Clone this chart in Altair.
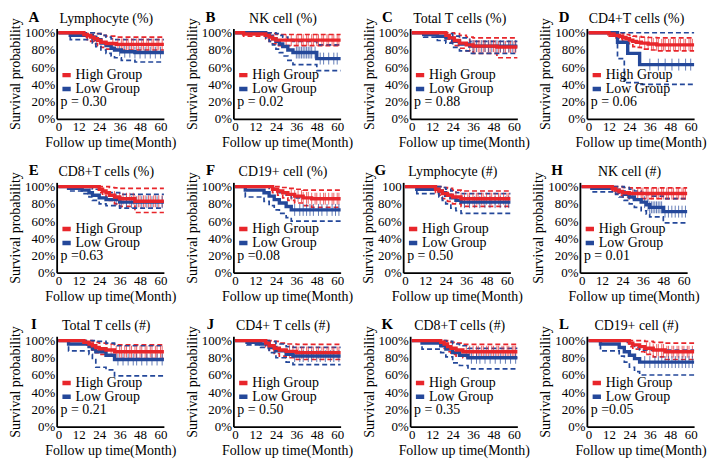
import altair as alt
import numpy as np
import pandas as pd

FONT = "Liberation Serif"
RED = "#e8262b"
BLUE = "#24489a"
GROUPS = ["High Group", "Low Group"]
X_TICKS = [0, 12, 24, 36, 48, 60]
Y_TICKS = [0.0, 0.2, 0.4, 0.6, 0.8, 1.0]
X_TITLE = "Follow up time(Month)"
Y_TITLE = "Survival probability"
LETTERS = ["A", "B", "C", "D", "E", "F", "G", "H", "I", "J", "K", "L"]
TITLES = ["Lymphocyte (%)", "NK cell (%)", "Total T cells (%)", "CD4+T cells (%)",
          "CD8+T cells (%)", "CD19+ cell (%)", "Lymphocyte (#)", "NK cell (#)",
          "Total T cells (#)", "CD4+ T cells (#)", "CD8+T cells (#)", "CD19+ cell (#)"]
PVALS = ["p = 0.30", "p = 0.02", "p = 0.88", "p = 0.06", "p =0.63", "p =0.08",
         "p = 0.50", "p = 0.01", "p = 0.21", "p = 0.50", "p = 0.35", "p =0.05"]
TOP_LABEL_NO_PERCENT = ["G"]

# ---- A: Lymphocyte (%)
A_H_T = [0, 15, 17, 19, 21, 23, 25, 28, 34, 62]
A_H_S = [1.00, 0.98, 0.965, 0.95, 0.93, 0.91, 0.89, 0.875, 0.865, 0.865]
A_H_LCL = [1.00, 0.95, 0.92, 0.90, 0.87, 0.85, 0.83, 0.81, 0.80, 0.80]
A_H_UCL = [1.00, 1.00, 1.00, 1.00, 1.00, 0.99, 0.97, 0.96, 0.95, 0.95]
A_H_CENS = [32, 35, 37, 38, 40, 41, 43, 44, 46, 47, 49, 50, 52, 53, 55, 56, 58, 59, 61]
A_L_T = [0, 7, 20, 22, 25, 28, 31, 33, 37, 45, 62]
A_L_S = [1.00, 0.97, 0.95, 0.92, 0.88, 0.85, 0.82, 0.80, 0.78, 0.77, 0.77]
A_L_LCL = [1.00, 0.92, 0.88, 0.84, 0.80, 0.76, 0.73, 0.71, 0.68, 0.66, 0.66]
A_L_UCL = [1.00, 1.00, 1.00, 0.99, 0.97, 0.95, 0.93, 0.92, 0.92, 0.92, 0.92]
A_L_CENS = [36, 39, 42, 45, 48, 51, 54, 57, 60]

# ---- B: NK cell (%)
B_H_T = [0, 5, 18, 20, 22, 24, 62]
B_H_S = [1.00, 0.985, 0.97, 0.95, 0.93, 0.915, 0.915]
B_H_LCL = [1.00, 0.96, 0.93, 0.90, 0.87, 0.85, 0.85]
B_H_UCL = [1.00, 1.00, 1.00, 1.00, 0.99, 0.98, 0.98]
B_H_CENS = [30, 33, 36, 37, 39, 40, 42, 43, 45, 46, 48, 49, 51, 52, 54, 55, 57, 58, 60, 61]
B_L_T = [0, 18, 20, 22, 24, 26, 28, 31, 34, 48, 62]
B_L_S = [1.00, 0.98, 0.96, 0.93, 0.90, 0.87, 0.84, 0.80, 0.77, 0.70, 0.70]
B_L_LCL = [1.00, 0.94, 0.90, 0.86, 0.81, 0.77, 0.73, 0.68, 0.63, 0.56, 0.56]
B_L_UCL = [1.00, 1.00, 1.00, 1.00, 0.99, 0.97, 0.95, 0.92, 0.90, 0.86, 0.86]
B_L_CENS = [36, 37, 38, 39, 40, 41, 42, 43, 44, 45, 47, 50, 52, 55, 58, 60]

# ---- C: Total T cells (%)
C_H_T = [0, 20, 22, 25, 28, 32, 36, 50, 62]
C_H_S = [1.00, 0.97, 0.94, 0.91, 0.88, 0.86, 0.845, 0.835, 0.835]
C_H_LCL = [1.00, 0.93, 0.89, 0.85, 0.82, 0.79, 0.76, 0.71, 0.71]
C_H_UCL = [1.00, 1.00, 1.00, 0.99, 0.97, 0.95, 0.94, 0.94, 0.94]
C_H_CENS = [34, 36, 37, 39, 40, 42, 43, 45, 46, 48, 49, 51, 52, 54, 55, 57, 58, 60, 61]
C_L_T = [0, 7, 15, 20, 24, 28, 34, 62]
C_L_S = [1.00, 0.98, 0.96, 0.94, 0.90, 0.87, 0.845, 0.845]
C_L_LCL = [1.00, 0.95, 0.91, 0.88, 0.83, 0.79, 0.76, 0.76]
C_L_UCL = [1.00, 1.00, 1.00, 0.99, 0.96, 0.94, 0.90, 0.90]
C_L_CENS = [36, 38, 41, 43, 45, 47, 50, 52, 54, 57, 59, 61]

# ---- D: CD4+T cells (%)
D_H_T = [0, 12, 15, 18, 20, 22, 24, 26, 28, 31, 35, 40, 62]
D_H_S = [1.00, 0.985, 0.97, 0.96, 0.945, 0.93, 0.915, 0.90, 0.89, 0.88, 0.87, 0.86, 0.86]
D_H_LCL = [1.00, 0.96, 0.94, 0.92, 0.90, 0.88, 0.86, 0.84, 0.83, 0.81, 0.80, 0.79, 0.79]
D_H_UCL = [1.00, 1.00, 1.00, 1.00, 0.99, 0.98, 0.97, 0.96, 0.955, 0.95, 0.945, 0.94, 0.94]
D_H_CENS = [30, 33, 35, 37, 38, 40, 41, 43, 44, 45, 47, 48, 50, 51, 53, 54, 56, 57, 59, 60, 61]
D_L_T = [0, 17, 21, 23, 30, 62]
D_L_S = [1.00, 0.89, 0.89, 0.76, 0.63, 0.63]
D_L_LCL = [1.00, 0.70, 0.42, 0.42, 0.40, 0.40]
D_L_UCL = [1.00, 1.00, 1.00, 1.00, 1.00, 1.00]
D_L_CENS = [36, 41, 45, 49, 53, 57, 60]

# ---- E: CD8+T cells (%)
E_H_T = [0, 24, 26, 28, 30, 33, 36, 45, 62]
E_H_S = [1.00, 0.97, 0.95, 0.93, 0.90, 0.88, 0.86, 0.83, 0.83]
E_H_LCL = [1.00, 0.93, 0.90, 0.87, 0.84, 0.80, 0.77, 0.70, 0.70]
E_H_UCL = [1.00, 1.00, 1.00, 1.00, 0.99, 0.985, 0.98, 0.98, 0.98]
E_H_CENS = [33, 36, 38, 40, 42, 44, 45, 47, 48, 50, 51, 53, 54, 56, 57, 59, 61]
E_L_T = [0, 6, 14, 18, 20, 24, 28, 36, 62]
E_L_S = [1.00, 0.98, 0.96, 0.93, 0.90, 0.87, 0.85, 0.82, 0.82]
E_L_LCL = [1.00, 0.95, 0.92, 0.88, 0.84, 0.80, 0.78, 0.75, 0.75]
E_L_UCL = [1.00, 1.00, 1.00, 0.99, 0.97, 0.95, 0.93, 0.91, 0.91]
E_L_CENS = [34, 37, 40, 43, 46, 49, 52, 55, 58, 61]

# ---- F: CD19+ cell (%)
F_H_T = [0, 22, 25, 28, 31, 35, 40, 45, 62]
F_H_S = [1.00, 0.97, 0.95, 0.93, 0.91, 0.89, 0.87, 0.86, 0.86]
F_H_LCL = [1.00, 0.93, 0.90, 0.87, 0.84, 0.81, 0.78, 0.76, 0.76]
F_H_UCL = [1.00, 1.00, 1.00, 0.99, 0.98, 0.97, 0.96, 0.96, 0.96]
F_H_CENS = [33, 35, 37, 39, 40, 42, 43, 45, 47, 48, 50, 52, 53, 55, 57, 58, 60, 61]
F_L_T = [0, 6, 17, 20, 23, 26, 30, 33, 62]
F_L_S = [1.00, 0.96, 0.93, 0.89, 0.85, 0.81, 0.77, 0.73, 0.73]
F_L_LCL = [1.00, 0.88, 0.83, 0.78, 0.73, 0.69, 0.64, 0.60, 0.60]
F_L_UCL = [1.00, 1.00, 1.00, 0.98, 0.96, 0.93, 0.90, 0.87, 0.87]
F_L_CENS = [35, 38, 40, 42, 44, 46, 49, 51, 54, 57, 59, 61]

# ---- G: Lymphocyte (#)
G_H_T = [0, 18, 20, 22, 25, 28, 33, 62]
G_H_S = [1.00, 0.97, 0.95, 0.92, 0.90, 0.88, 0.86, 0.86]
G_H_LCL = [1.00, 0.93, 0.90, 0.86, 0.83, 0.80, 0.77, 0.77]
G_H_UCL = [1.00, 1.00, 1.00, 0.99, 0.98, 0.96, 0.95, 0.95]
G_H_CENS = [30, 33, 35, 37, 38, 40, 42, 43, 45, 46, 48, 50, 51, 53, 55, 56, 58, 60, 61]
G_L_T = [0, 7, 20, 22, 24, 27, 30, 33, 62]
G_L_S = [1.00, 0.97, 0.95, 0.93, 0.90, 0.87, 0.84, 0.82, 0.82]
G_L_LCL = [1.00, 0.92, 0.88, 0.84, 0.80, 0.75, 0.72, 0.69, 0.69]
G_L_UCL = [1.00, 1.00, 1.00, 0.99, 0.97, 0.95, 0.93, 0.92, 0.92]
G_L_CENS = [35, 38, 41, 44, 47, 50, 53, 56, 59, 61]

# ---- H: NK cell (#)
H_H_T = [0, 18, 20, 22, 24, 28, 62]
H_H_S = [1.00, 0.98, 0.96, 0.945, 0.93, 0.92, 0.92]
H_H_LCL = [1.00, 0.95, 0.92, 0.90, 0.88, 0.86, 0.86]
H_H_UCL = [1.00, 1.00, 1.00, 1.00, 0.99, 0.985, 0.985]
H_H_CENS = [30, 33, 35, 36, 38, 39, 41, 42, 44, 45, 47, 48, 50, 51, 53, 54, 56, 57, 59, 60, 61]
H_L_T = [0, 6, 20, 22, 25, 28, 31, 35, 38, 40, 48, 62]
H_L_S = [1.00, 0.98, 0.96, 0.94, 0.91, 0.88, 0.85, 0.82, 0.79, 0.76, 0.71, 0.71]
H_L_LCL = [1.00, 0.94, 0.91, 0.88, 0.84, 0.80, 0.76, 0.72, 0.68, 0.65, 0.58, 0.58]
H_L_UCL = [1.00, 1.00, 1.00, 1.00, 0.99, 0.97, 0.95, 0.93, 0.91, 0.89, 0.86, 0.86]
H_L_CENS = [37, 39, 40, 41, 42, 43, 44, 45, 46, 47, 49, 51, 53, 55, 57, 59, 61]

# ---- I: Total T cells (#)
I_H_T = [0, 15, 18, 20, 22, 24, 28, 33, 62]
I_H_S = [1.00, 0.98, 0.96, 0.94, 0.92, 0.905, 0.89, 0.87, 0.87]
I_H_LCL = [1.00, 0.95, 0.92, 0.89, 0.86, 0.84, 0.82, 0.79, 0.79]
I_H_UCL = [1.00, 1.00, 1.00, 0.99, 0.98, 0.97, 0.96, 0.95, 0.95]
I_H_CENS = [31, 34, 36, 37, 39, 40, 42, 43, 45, 46, 48, 49, 51, 52, 54, 55, 57, 58, 60, 61]
I_L_T = [0, 6, 18, 20, 22, 28, 33, 62]
I_L_S = [1.00, 0.96, 0.93, 0.90, 0.87, 0.83, 0.78, 0.78]
I_L_LCL = [1.00, 0.88, 0.84, 0.78, 0.69, 0.66, 0.59, 0.59]
I_L_UCL = [1.00, 1.00, 1.00, 1.00, 0.99, 0.97, 0.94, 0.94]
I_L_CENS = [35, 38, 41, 44, 46, 49, 52, 55, 58, 61]

# ---- J: CD4+ T cells (#)
J_H_T = [0, 18, 20, 23, 26, 30, 36, 62]
J_H_S = [1.00, 0.97, 0.94, 0.91, 0.89, 0.875, 0.86, 0.86]
J_H_LCL = [1.00, 0.93, 0.89, 0.85, 0.82, 0.80, 0.78, 0.78]
J_H_UCL = [1.00, 1.00, 1.00, 0.99, 0.97, 0.96, 0.955, 0.955]
J_H_CENS = [32, 34, 36, 37, 39, 40, 42, 43, 45, 46, 48, 49, 51, 52, 54, 55, 57, 58, 60, 61]
J_L_T = [0, 7, 15, 20, 24, 30, 34, 62]
J_L_S = [1.00, 0.98, 0.96, 0.92, 0.88, 0.84, 0.82, 0.82]
J_L_LCL = [1.00, 0.95, 0.92, 0.86, 0.80, 0.75, 0.72, 0.72]
J_L_UCL = [1.00, 1.00, 1.00, 0.99, 0.96, 0.93, 0.92, 0.92]
J_L_CENS = [35, 38, 40, 43, 45, 48, 50, 53, 56, 58, 61]

# ---- K: CD8+T cells (#)
K_H_T = [0, 17, 19, 21, 23, 26, 30, 62]
K_H_S = [1.00, 0.98, 0.96, 0.93, 0.91, 0.89, 0.87, 0.87]
K_H_LCL = [1.00, 0.94, 0.91, 0.87, 0.84, 0.82, 0.80, 0.80]
K_H_UCL = [1.00, 1.00, 1.00, 0.99, 0.98, 0.97, 0.955, 0.955]
K_H_CENS = [32, 34, 36, 38, 39, 41, 42, 44, 45, 47, 48, 50, 51, 53, 54, 56, 57, 59, 60, 61]
K_L_T = [0, 6, 17, 20, 24, 28, 33, 62]
K_L_S = [1.00, 0.97, 0.94, 0.90, 0.86, 0.83, 0.80, 0.80]
K_L_LCL = [1.00, 0.90, 0.86, 0.81, 0.74, 0.71, 0.67, 0.67]
K_L_UCL = [1.00, 1.00, 1.00, 0.99, 0.96, 0.94, 0.91, 0.91]
K_L_CENS = [35, 38, 40, 43, 46, 49, 52, 55, 58, 61]

# ---- L: CD19+ cell (#)
L_H_T = [0, 24, 26, 30, 33, 38, 45, 62]
L_H_S = [1.00, 0.97, 0.95, 0.93, 0.91, 0.89, 0.87, 0.87]
L_H_LCL = [1.00, 0.93, 0.90, 0.87, 0.84, 0.81, 0.78, 0.78]
L_H_UCL = [1.00, 1.00, 1.00, 1.00, 0.99, 0.98, 0.97, 0.97]
L_H_CENS = [34, 36, 38, 40, 41, 43, 44, 46, 47, 49, 50, 52, 53, 55, 56, 58, 59, 61]
L_L_T = [0, 7, 18, 21, 24, 27, 30, 62]
L_L_S = [1.00, 0.96, 0.92, 0.87, 0.83, 0.79, 0.75, 0.75]
L_L_LCL = [1.00, 0.88, 0.82, 0.75, 0.69, 0.64, 0.60, 0.60]
L_L_UCL = [1.00, 1.00, 1.00, 0.98, 0.95, 0.92, 0.89, 0.89]
L_L_CENS = [33, 36, 39, 41, 43, 45, 47, 49, 51, 53, 55, 57, 59, 61]

W, H = 108, 91


def group_arrays(letter, code):
    g = globals()
    return (g[f"{letter}_{code}_T"], g[f"{letter}_{code}_S"], g[f"{letter}_{code}_LCL"],
            g[f"{letter}_{code}_UCL"], g[f"{letter}_{code}_CENS"])


def make_panel(idx):
    letter = LETTERS[idx]
    curve_rows, cens_rows = [], []
    for group, code in (("High Group", "H"), ("Low Group", "L")):
        t, s, lcl, ucl, cens = group_arrays(letter, code)
        for kind, vals in (("surv", s), ("lcl", lcl), ("ucl", ucl)):
            for ti, vi in zip(t, vals):
                curve_rows.append({"t": ti, "v": vi, "group": group, "kind": kind,
                                   "key": group + "-" + kind})
        pos = np.searchsorted(np.array(t), np.array(cens), side="right") - 1
        for c, p in zip(cens, pos):
            cens_rows.append({"t": c, "v": s[p], "group": group})
    curves = pd.DataFrame(curve_rows)
    censd = pd.DataFrame(cens_rows)

    yaxis_kw = dict(values=Y_TICKS, format=".0%", title=Y_TITLE)
    if letter in TOP_LABEL_NO_PERCENT:
        yaxis_kw["labelExpr"] = "datum.value > 0.999 ? '100' : datum.label"
    x = alt.X("t:Q", scale=alt.Scale(domain=[-1, 62], nice=False, zero=False),
              axis=alt.Axis(values=X_TICKS, title=X_TITLE))
    y = alt.Y("v:Q", scale=alt.Scale(domain=[0, 1.05], nice=False), axis=alt.Axis(**yaxis_kw))
    cscale = alt.Scale(domain=GROUPS, range=[RED, BLUE])
    stroke = alt.Stroke("group:N", scale=cscale, legend=None)

    base = alt.Chart(curves)
    ci = base.transform_filter("datum.kind != 'surv'").mark_line(
        interpolate="step-after", strokeDash=[5, 3], strokeWidth=1.7
    ).encode(x=x, y=y, stroke=stroke, detail="key:N")

    ticks = alt.Chart(censd).mark_point(
        shape="M0,-1L0,1", size=144, filled=False, strokeWidth=1, opacity=0.7
    ).encode(x=x, y=y, stroke=stroke)

    low = base.transform_filter("datum.kind == 'surv' && datum.group == 'Low Group'").mark_line(
        interpolate="step-after", strokeWidth=3.4
    ).encode(x=x, y=y, color=alt.Color(
        "group:N", scale=cscale,
        legend=alt.Legend(orient="none", legendX=3, legendY=41, title=None,
                          symbolType="stroke", symbolStrokeWidth=4.5, symbolSize=70,
                          labelFont=FONT, labelFontSize=14, labelColor="black",
                          labelOffset=2, rowPadding=0, clipHeight=12, padding=0)))

    high = base.transform_filter("datum.kind == 'surv' && datum.group == 'High Group'").mark_line(
        interpolate="step-after", strokeWidth=3.4
    ).encode(x=x, y=y, stroke=stroke)

    lab = alt.Chart(pd.DataFrame({"letter": [letter]})).mark_text(
        font=FONT, fontSize=15, fontWeight="bold", align="center", baseline="middle", color="black"
    ).encode(text="letter:N", x=alt.value(-23), y=alt.value(-12))

    ttl = alt.Chart(pd.DataFrame({"title": [TITLES[idx]]})).mark_text(
        font=FONT, fontSize=14, align="center", baseline="middle", color="black"
    ).encode(text="title:N", x=alt.value(W / 2 - 4), y=alt.value(-10))

    ptxt = alt.Chart(pd.DataFrame({"p": [PVALS[idx]]})).mark_text(
        font=FONT, fontSize=14, align="left", baseline="middle", color="black"
    ).encode(text="p:N", x=alt.value(4), y=alt.value(74))

    return alt.layer(ci, ticks, low, high, lab, ttl, ptxt).properties(width=W, height=H)


rows = []
for r in range(3):
    rows.append(alt.hconcat(*[make_panel(r * 4 + c) for c in range(4)], spacing=8)
                .resolve_legend(color="independent"))

chart = alt.vconcat(*rows, spacing=14).resolve_legend(color="independent").properties(
    padding=0, background="white"
).configure_view(stroke=None).configure_axis(
    domainColor="black", domainWidth=1.8, ticks=False, tickSize=0, grid=False,
    labelFont=FONT, labelFontSize=13, labelColor="black", labelPadding=2, labelFlush=False,
    titleFont=FONT, titleFontSize=14, titleFontWeight="normal", titleColor="black", titlePadding=2
)

chart.save("out.html", embed_options={"renderer": "svg", "actions": False})
